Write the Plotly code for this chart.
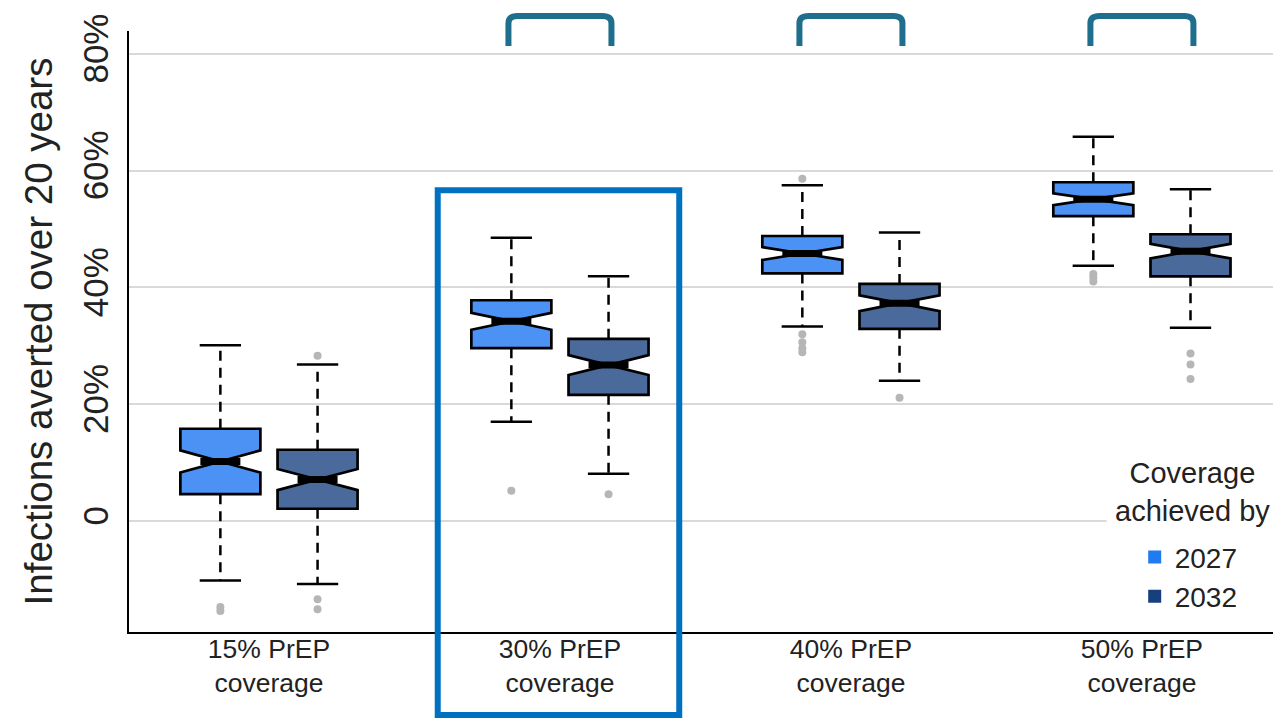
import plotly.graph_objects as go

# ---------------- data (percent) ----------------
categories = ["15% PrEP<br>coverage", "30% PrEP<br>coverage",
              "40% PrEP<br>coverage", "50% PrEP<br>coverage"]
series = ["2027", "2032"]

upper_2027 = [30.1, 48.5, 57.5, 65.8]
q3_2027 = [15.8, 37.8, 48.8, 58.0]
median_2027 = [10.2, 34.2, 45.8, 55.1]
q1_2027 = [4.6, 29.6, 42.4, 52.2]
lower_2027 = [-10.2, 17.0, 33.3, 43.7]
notch_2027 = [1.9, 1.45, 1.1, 1.0]
outliers_2027 = [[-14.7, -15.4], [5.2], [58.6, 32.0, 30.6, 29.6, 28.9], [42.3, 41.7, 41.0]]

upper_2032 = [26.8, 41.9, 49.4, 56.8]
q3_2032 = [12.2, 31.2, 40.6, 49.1]
median_2032 = [7.1, 26.7, 37.3, 46.2]
q1_2032 = [2.1, 21.6, 32.9, 41.9]
lower_2032 = [-10.8, 8.1, 24.0, 33.1]
notch_2032 = [1.8, 1.7, 1.35, 1.25]
outliers_2032 = [[28.3, -13.4, -15.1], [4.6], [21.1], [28.7, 26.8, 24.3]]

y_tickvals = [0, 20, 40, 60, 80]
y_ticktext = ["0", "20%", "40%", "60%", "80%"]
highlighted = [1, 2, 3]          # categories marked with a bracket
boxed_category = 1               # category outlined with a rectangle

# ---------------- style ----------------
FONT = "Liberation Sans, Arial, sans-serif"
FILL = {"2027": "#4c91f4", "2032": "#4a6a9b"}
LEGEND_COL = {"2027": "#1f7bf0", "2032": "#163f7e"}
OFFSET = 0.167
BOX_W = 0.275
CAP = 0.071
XMIN, XMAX = -0.481, 3.478
YMIN, YMAX = -19.0, 83.9

stats = {
    "2027": dict(up=upper_2027, q3=q3_2027, med=median_2027, q1=q1_2027,
                 lo=lower_2027, notch=notch_2027, out=outliers_2027, off=-OFFSET),
    "2032": dict(up=upper_2032, q3=q3_2032, med=median_2032, q1=q1_2032,
                 lo=lower_2032, notch=notch_2032, out=outliers_2032, off=OFFSET),
}

fig = go.Figure()

for s in series:
    d = stats[s]
    pos = [i + d["off"] for i in range(len(categories))]
    wx, wy, cx, cy, mx, my, ox, oy = [], [], [], [], [], [], [], []
    for k, p in enumerate(pos):
        wx += [p, p, None, p, p, None]
        wy += [d["q3"][k], d["up"][k], None, d["q1"][k], d["lo"][k], None]
        cx += [p - CAP, p + CAP, None, p - CAP, p + CAP, None]
        cy += [d["up"][k], d["up"][k], None, d["lo"][k], d["lo"][k], None]
        mx += [p - BOX_W / 4, p + BOX_W / 4, None]
        my += [d["med"][k], d["med"][k], None]
        for v in d["out"][k]:
            ox.append(p)
            oy.append(v)
    # dashed whiskers
    fig.add_trace(go.Scatter(x=wx, y=wy, mode="lines", showlegend=False, hoverinfo="skip",
                             line=dict(color="black", width=2.5, dash="10px,7px")))
    # whisker caps
    fig.add_trace(go.Scatter(x=cx, y=cy, mode="lines", showlegend=False, hoverinfo="skip",
                             line=dict(color="black", width=2.5)))
    # notched boxes
    fig.add_trace(go.Box(
        x=pos, q1=d["q1"], median=d["med"], q3=d["q3"],
        lowerfence=d["q1"], upperfence=d["q3"],
        notched=True, notchspan=d["notch"], notchwidth=0.5,
        width=BOX_W, whiskerwidth=0, boxpoints=False,
        fillcolor=FILL[s], line=dict(color="black", width=2.7),
        name=s, showlegend=False))
    # thick medians
    fig.add_trace(go.Scatter(x=mx, y=my, mode="lines", showlegend=False, hoverinfo="skip",
                             line=dict(color="black", width=7)))
    # outliers
    fig.add_trace(go.Scatter(x=ox, y=oy, mode="markers", showlegend=False,
                             marker=dict(color="#b6b6b6", size=8)))

for s in series:
    fig.add_trace(go.Scatter(x=[None], y=[None], mode="markers", name=s,
                             marker=dict(symbol="square", size=13, color=LEGEND_COL[s])))


def px_(v):
    return (v - XMIN) / (XMAX - XMIN)


shapes = []
for i in highlighted:
    x0, x1 = px_(i - 0.177), px_(i + 0.177)
    rx, yb, yt, ry = 0.008, 0.975, 1.025, 0.012
    path = (f"M {x0},{yb} L {x0},{yt - ry} Q {x0},{yt} {x0 + rx},{yt} "
            f"L {x1 - rx},{yt} Q {x1},{yt} {x1},{yt - ry} L {x1},{yb}")
    shapes.append(dict(type="path", xref="paper", yref="paper", path=path,
                       line=dict(color="#1f6e8c", width=6)))
shapes.append(dict(type="rect", xref="paper", yref="paper",
                   x0=px_(boxed_category - 0.42), x1=px_(boxed_category + 0.41),
                   y0=-0.138, y1=0.735, line=dict(color="#0070c0", width=6)))

fig.update_layout(
    width=1273, height=711,
    margin=dict(l=121, r=0, t=23, b=87),
    paper_bgcolor="white", plot_bgcolor="white",
    font=dict(family=FONT, color="#222222"),
    shapes=shapes,
    showlegend=True,
    legend=dict(x=0.873, y=0.092, xanchor="left", yanchor="middle",
                bgcolor="rgba(255,255,255,0)", font=dict(size=28, color="#222222"),
                tracegroupgap=0),
    annotations=[dict(text="Coverage<br>achieved by", xref="paper", yref="paper",
                      x=0.923, y=0.233, xanchor="center", yanchor="middle",
                      showarrow=False, bgcolor="white", borderpad=8,
                      font=dict(size=29, color="#222222", family=FONT))],
)
fig.update_xaxes(range=[XMIN, XMAX], tickvals=list(range(len(categories))),
                 ticktext=categories, showgrid=False, zeroline=False,
                 showline=True, linecolor="black", linewidth=2, ticks="",
                 ticklabelstandoff=-8,
                 tickfont=dict(size=26.5, color="#222222"))
fig.update_yaxes(range=[YMIN, YMAX], tickvals=y_tickvals, ticktext=y_ticktext,
                 tickangle=-90, showgrid=True, gridcolor="#d9d9d9", gridwidth=2,
                 zeroline=False, showline=True, linecolor="black", linewidth=2,
                 ticks="", ticklabelstandoff=5,
                 tickfont=dict(size=35, color="#222222"),
                 title=dict(text="Infections averted over 20 years", standoff=12,
                            font=dict(size=38.5, color="#222222")))

fig.write_html("out.html")
